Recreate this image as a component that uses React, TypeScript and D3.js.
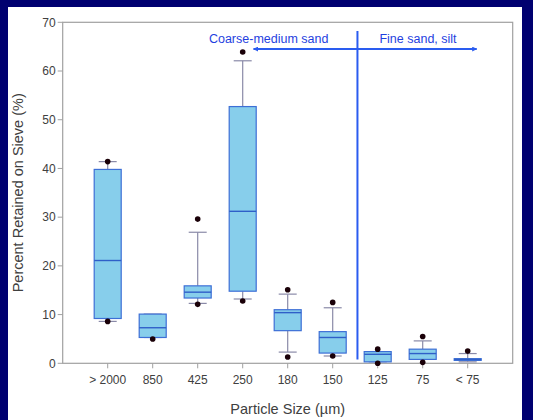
import React from "react";
import * as d3 from "d3";

// Sieve classes (µm) and box-plot statistics of percent retained
const categories = ["> 2000", "850", "425", "250", "180", "150", "125", "75", "< 75"];
const whiskerLow = [8.6, 5.3, 12.3, 13.2, 2.3, 1.5, 0.3, 0.8, 0.3];
const q1 = [9.2, 5.3, 13.4, 14.8, 6.7, 2.1, 0.3, 0.8, 0.6];
const median = [21.1, 7.3, 14.6, 31.2, 10.4, 5.3, 1.85, 2.0, 0.8];
const q3 = [39.8, 10.1, 15.9, 52.7, 11.0, 6.5, 2.4, 2.9, 0.95];
const whiskerHigh = [41.4, 10.1, 26.9, 62.1, 14.2, 11.4, 2.4, 4.6, 2.0];
const outlierLow = [8.6, 5.0, 12.1, 12.8, 1.3, 1.5, 0.0, 0.2, null];
const outlierHigh = [41.4, null, 29.6, 63.9, 15.1, 12.5, 2.9, 5.5, 2.5];
const yTicks = [0, 10, 20, 30, 40, 50, 60, 70];

const W = 533;
const H = 420;
const margin = { left: 62.7, top: 22.3, right: 533 - 512.7, bottom: 420 - 363.3 };

export default function App() {
  const x = d3.scaleLinear().domain([0, 10]).range([margin.left, W - margin.right]);
  const y = d3.scaleLinear().domain([0, 70]).range([H - margin.bottom, margin.top]);
  const boxW = 27;
  const capW = 18;
  const tickFont = "Arial, 'Liberation Sans', sans-serif";
  const blue = "#2a5cf0";

  const dividerX = x(6.55);
  const arrowY = y(64.5);

  return (
    <svg
      width={W}
      height={H}
      style={{ position: "absolute", left: 0, top: 0, display: "block" }}
      fontFamily={tickFont}
    >
      <defs>
        <marker id="ah" viewBox="0 0 10 10" refX="9" refY="5" markerWidth="6" markerHeight="5" orient="auto-start-reverse" markerUnits="userSpaceOnUse">
          <path d="M0,0 L10,5 L0,10 z" fill={blue} />
        </marker>
      </defs>
      <rect x={0} y={0} width={W} height={H} fill="#000070" />
      <rect x={8} y={7} width={514} height={H - 7} fill="#ffffff" />

      {/* plot frame */}
      <rect
        x={x(0)}
        y={y(70)}
        width={x(10) - x(0)}
        height={y(0) - y(70)}
        fill="none"
        stroke="#a0a0a0"
        strokeWidth={1.2}
      />

      {/* y axis ticks */}
      {yTicks.map((t) => (
        <g key={t}>
          <line x1={x(0) - 5} x2={x(0)} y1={y(t)} y2={y(t)} stroke="#a0a0a0" />
          <text x={x(0) - 7} y={y(t)} dy="0.35em" textAnchor="end" fontSize={12} fill="#404040">
            {t}
          </text>
        </g>
      ))}

      {/* x axis ticks */}
      {categories.map((c, i) => (
        <g key={c}>
          <line x1={x(i + 1)} x2={x(i + 1)} y1={y(0)} y2={y(0) + 5} stroke="#a0a0a0" />
          <text x={x(i + 1)} y={y(0) + 21} textAnchor="middle" fontSize={12} fill="#404040">
            {c}
          </text>
        </g>
      ))}

      {/* boxes */}
      {categories.map((c, i) => {
        const cx = x(i + 1);
        return (
          <g key={"b" + c}>
            <line x1={cx} x2={cx} y1={y(q3[i])} y2={y(whiskerHigh[i])} stroke="#8a8aa8" strokeWidth={1.2} />
            <line x1={cx} x2={cx} y1={y(q1[i])} y2={y(whiskerLow[i])} stroke="#8a8aa8" strokeWidth={1.2} />
            <line x1={cx - capW / 2} x2={cx + capW / 2} y1={y(whiskerHigh[i])} y2={y(whiskerHigh[i])} stroke="#8a8aa8" strokeWidth={1.2} />
            <line x1={cx - capW / 2} x2={cx + capW / 2} y1={y(whiskerLow[i])} y2={y(whiskerLow[i])} stroke="#8a8aa8" strokeWidth={1.2} />
            <rect
              x={cx - boxW / 2}
              y={y(q3[i])}
              width={boxW}
              height={Math.max(y(q1[i]) - y(q3[i]), 1)}
              fill="#87ceeb"
              stroke="#3d6fd6"
              strokeWidth={1.2}
            />
            <line x1={cx - boxW / 2} x2={cx + boxW / 2} y1={y(median[i])} y2={y(median[i])} stroke="#2f5fc8" strokeWidth={1.4} />
            {outlierHigh[i] !== null && <circle cx={cx} cy={y(outlierHigh[i] as number)} r={2.8} fill="#1a0008" />}
            {outlierLow[i] !== null && <circle cx={cx} cy={y(outlierLow[i] as number)} r={2.8} fill="#1a0008" />}
          </g>
        );
      })}

      {/* size-class divider and arrows */}
      <line x1={dividerX} x2={dividerX} y1={y(68.2)} y2={y(0.8)} stroke={blue} strokeWidth={2} />
      <line x1={dividerX} x2={x(4.24)} y1={arrowY} y2={arrowY} stroke={blue} strokeWidth={2} markerEnd="url(#ah)" />
      <line x1={dividerX} x2={x(9.2)} y1={arrowY} y2={arrowY} stroke={blue} strokeWidth={2} markerEnd="url(#ah)" />
      <text x={dividerX - 29} y={arrowY - 6} textAnchor="end" fontSize={12.5} fill="#1f3fe0">
        Coarse-medium sand
      </text>
      <text x={dividerX + 22} y={arrowY - 6} textAnchor="start" fontSize={12.5} fill="#1f3fe0">
        Fine sand, silt
      </text>

      {/* axis titles */}
      <text
        transform={`translate(${23},${y(35)}) rotate(-90)`}
        textAnchor="middle"
        fontSize={14.5}
        fill="#404040"
      >
        Percent Retained on Sieve (%)
      </text>
      <text x={x(5)} y={414} textAnchor="middle" fontSize={14.5} fill="#404040">
        Particle Size (µm)
      </text>
    </svg>
  );
}
